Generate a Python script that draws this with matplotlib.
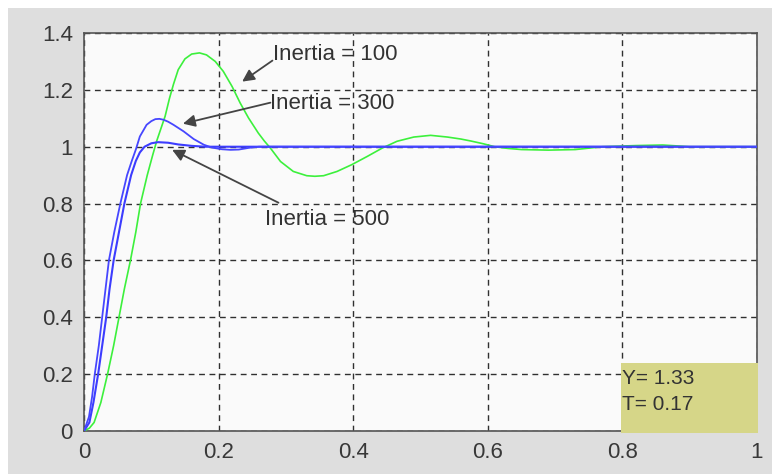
import matplotlib
matplotlib.use("Agg")
import matplotlib.pyplot as plt
from matplotlib.patches import Rectangle

# step responses
t_100 = [0, 0.008, 0.015, 0.025, 0.035, 0.044, 0.052, 0.060, 0.069, 0.077, 0.084, 0.094,
         0.102, 0.108, 0.1205, 0.127, 0.133, 0.140, 0.150, 0.160, 0.1716, 0.182, 0.195,
         0.207, 0.220, 0.232, 0.2445, 0.259, 0.268, 0.277, 0.292, 0.311, 0.331, 0.343,
         0.356, 0.376, 0.398, 0.421, 0.443, 0.465, 0.490, 0.515, 0.540, 0.560, 0.575,
         0.594, 0.610, 0.630, 0.650, 0.690, 0.730, 0.750, 0.770, 0.820, 0.860, 0.900, 1.0]
y_100 = [0, 0.01, 0.03, 0.10, 0.20, 0.30, 0.40, 0.50, 0.60, 0.70, 0.80, 0.90,
         0.97, 1.02, 1.107, 1.17, 1.22, 1.271, 1.309, 1.326, 1.330, 1.323, 1.300,
         1.265, 1.212, 1.154, 1.101, 1.048, 1.02, 0.995, 0.948, 0.913, 0.898, 0.896,
         0.898, 0.913, 0.937, 0.966, 0.995, 1.019, 1.034, 1.040, 1.034, 1.027, 1.020,
         1.010, 1.000, 0.994, 0.990, 0.988, 0.990, 0.995, 1.000, 1.004, 1.006, 1.000, 1.000]

t_300 = [0, 0.0074, 0.012, 0.016, 0.022, 0.027, 0.032, 0.037, 0.045, 0.054, 0.064, 0.071,
         0.077, 0.083, 0.093, 0.100, 0.106, 0.112, 0.118, 0.125, 0.133, 0.148, 0.163,
         0.178, 0.190, 0.205, 0.218, 0.230, 0.245, 0.260, 1.0]
y_300 = [0, 0.05, 0.12, 0.20, 0.30, 0.40, 0.50, 0.60, 0.70, 0.80, 0.90, 0.95,
         0.99, 1.036, 1.077, 1.090, 1.097, 1.098, 1.095, 1.088, 1.077, 1.054, 1.027,
         1.007, 0.997, 0.991, 0.989, 0.990, 0.996, 1.000, 1.000]

t_500 = [0, 0.008, 0.014, 0.021, 0.027, 0.033, 0.038, 0.044, 0.052, 0.060, 0.070, 0.077,
         0.083, 0.090, 0.100, 0.110, 0.125, 0.140, 0.160, 0.180, 1.0]
y_500 = [0, 0.03, 0.10, 0.20, 0.30, 0.40, 0.50, 0.60, 0.70, 0.80, 0.90, 0.95,
         0.98, 1.00, 1.012, 1.016, 1.014, 1.008, 1.003, 1.000, 1.000]

x_ticks = [0, 0.2, 0.4, 0.6, 0.8, 1.0]
x_labels = ["0", "0.2", "0.4", "0.6", "0.8", "1"]
y_ticks = [0, 0.2, 0.4, 0.6, 0.8, 1.0, 1.2, 1.4]
y_labels = ["0", "0.2", "0.4", "0.6", "0.8", "1", "1.2", "1.4"]

cursor_y = 1.33
cursor_t = 0.17

plt.rcParams["font.family"] = ["Liberation Sans", "DejaVu Sans"]

fig = plt.figure(figsize=(7.72, 4.74), dpi=100, facecolor="white")
bg = Rectangle((8 / 772, 0), 1, (474 - 8) / 474, transform=fig.transFigure,
               facecolor="#dedede", edgecolor="none", zorder=-10)
fig.add_artist(bg)

ax = fig.add_axes([84 / 772, 43 / 474, 673 / 772, 398 / 474])
ax.set_facecolor("#fafafa")

ax.plot(t_100, y_100, color="#3cf03c", lw=1.2, zorder=3)
ax.plot(t_500, y_500, color="#3c3cff", lw=1.5, zorder=4)
ax.plot(t_300, y_300, color="#4646ff", lw=1.3, zorder=4)

ax.set_xlim(0, 1)
ax.set_ylim(0, 1.4)
ax.set_xticks(x_ticks)
ax.set_xticklabels(x_labels)
ax.set_yticks(y_ticks)
ax.set_yticklabels(y_labels)
ax.tick_params(length=0, labelsize=16, labelcolor="#383838", pad=8)
ax.grid(True, color="#303030", linestyle=(0, (4.2, 3.3)), lw=1.0)
for sp in ax.spines.values():
    sp.set_color("#555555")
    sp.set_linewidth(1.2)

arrow = dict(arrowstyle="-|>", color="#444444", lw=1.3, mutation_scale=18, shrinkA=0, shrinkB=0)
ax.annotate("", xy=(0.235, 1.229), xytext=(0.280, 1.303), arrowprops=arrow, zorder=5)
ax.annotate("", xy=(0.147, 1.081), xytext=(0.277, 1.155), arrowprops=arrow, zorder=5)
ax.annotate("", xy=(0.131, 0.989), xytext=(0.289, 0.803), arrowprops=arrow, zorder=5)

txt = dict(fontsize=16, color="#333333", va="center", ha="left", zorder=6)
ax.text(0.281, 1.324, "Inertia = 100", **txt)
ax.text(0.277, 1.153, "Inertia = 300", **txt)
ax.text(0.269, 0.743, "Inertia = 500", **txt)

# data cursor box
ax.add_patch(Rectangle((0.798, -0.007), 0.204, 0.247, facecolor="#d6d688", edgecolor="none",
                       clip_on=False, zorder=7))
ax.text(0.800, 0.186, f"Y= {cursor_y:.2f}", fontsize=15, color="#333333", va="center", zorder=8)
ax.text(0.800, 0.092, f"T= {cursor_t:.2f}", fontsize=15, color="#333333", va="center", zorder=8)

fig.savefig("out.png", dpi=100, facecolor=fig.get_facecolor())
